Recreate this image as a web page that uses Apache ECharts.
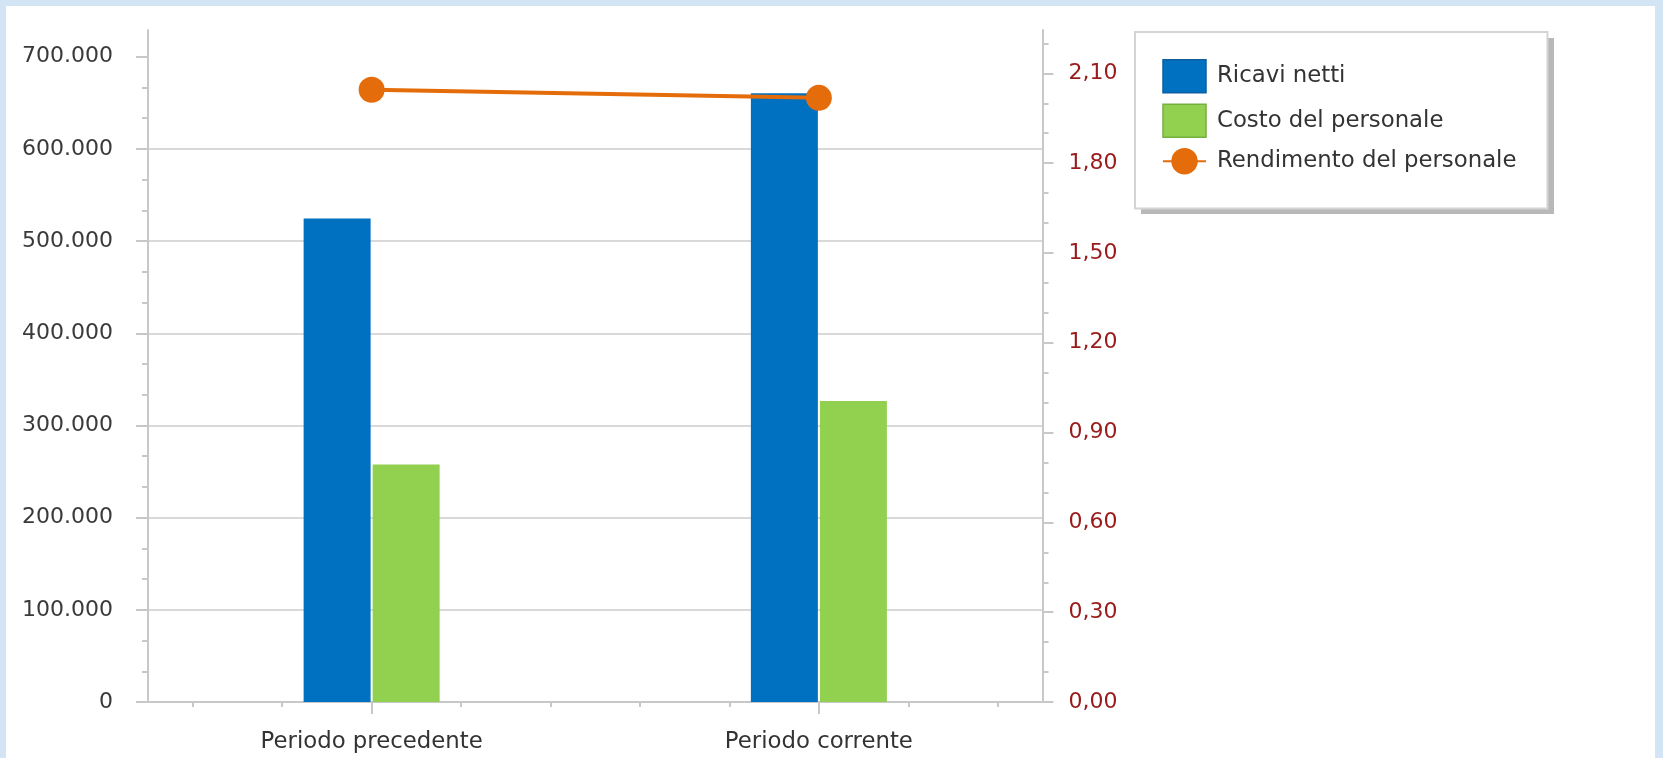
<!DOCTYPE html>
<html>
<head>
<meta charset="utf-8">
<script src="https://cdn.jsdelivr.net/npm/echarts@6/dist/echarts.min.js"></script>
<style>
  html, body { margin: 0; padding: 0; width: 1663px; height: 758px; overflow: hidden; background: #d3e4f5; }
  #panel { position: absolute; left: 6px; top: 6px; width: 1649px; height: 752px; background: #ffffff; }
  #chart { position: absolute; left: 0; top: 0; width: 1663px; height: 758px; }
</style>
</head>
<body>
<div id="panel"></div>
<div id="chart"></div>
<script>
// ---- data ----
const categories = ['Periodo precedente', 'Periodo corrente'];
const ricaviNetti = [524500, 660500];
const costoPersonale = [257600, 326500];
const rendimentoPersonale = [2.045, 2.018];
const seriesNames = ['Ricavi netti', 'Costo del personale', 'Rendimento del personale'];
const leftTicks = [0, 100000, 200000, 300000, 400000, 500000, 600000, 700000];
const rightTicks = [0, 0.3, 0.6, 0.9, 1.2, 1.5, 1.8, 2.1];
const leftMax = 729000;
const rightMax = 2.2447;

// minor ticks: two between each pair of major ticks
function minorValues(ticks, max) {
  const step = ticks[1] - ticks[0];
  const out = [];
  for (let i = 0; i < ticks.length; i++) {
    for (let j = 1; j <= 2; j++) {
      const v = ticks[i] + step * j / 3;
      if (v <= max) out.push(v);
    }
  }
  return out;
}
const leftMinor = minorValues(leftTicks, leftMax);
const rightMinor = minorValues(rightTicks, rightMax);
const xMinorSlots = new Array(categories.length * 5).fill('');

const FONT = 'DejaVu Sans';
const gridCol = '#d9d9d9';
const axisCol = '#c8c8c8';

function fmtThousands(v) {
  return String(Math.round(v)).replace(/\B(?=(\d{3})+(?!\d))/g, '.');
}
function fmtComma(v) {
  return v.toFixed(2).replace('.', ',');
}

const legendLeft = 1135, legendTop = 32, legendW = 413, legendH = 176;

const chart = echarts.init(document.getElementById('chart'), null, { renderer: 'canvas' });
chart.setOption({
  backgroundColor: 'transparent',
  animation: false,
  textStyle: { fontFamily: FONT },
  grid: { left: 148, right: 620.5, top: 30, bottom: 56, containLabel: false },
  graphic: [
    {
      type: 'rect',
      z: 0,
      shape: { x: legendLeft + 6, y: legendTop + 6, width: legendW, height: legendH },
      style: { fill: '#b8b8b8' },
      silent: true
    }
  ],
  legend: {
    orient: 'vertical',
    left: legendLeft,
    top: legendTop,
    padding: [27, 31, 34, 27],
    itemWidth: 43,
    itemHeight: 33,
    itemGap: 10,
    backgroundColor: '#ffffff',
    borderColor: '#d4d4d4',
    borderWidth: 2,
    borderRadius: 0,
    z: 10,
    textStyle: { fontFamily: FONT, fontSize: 22.8, color: '#333333', padding: [0, 0, 0, 6] },
    data: [
      { name: seriesNames[0], icon: 'rect', itemStyle: { borderColor: '#0d5fa0', borderWidth: 1.5 } },
      { name: seriesNames[1], icon: 'rect', itemStyle: { borderColor: '#74b040', borderWidth: 1.5 } },
      { name: seriesNames[2] }
    ]
  },
  xAxis: [
    {
      type: 'category',
      data: categories,
      position: 'bottom',
      boundaryGap: true,
      axisLine: { show: true, lineStyle: { color: axisCol, width: 2 } },
      axisTick: { show: true, alignWithLabel: true, length: 12, lineStyle: { color: axisCol, width: 2 } },
      axisLabel: { margin: 29, fontFamily: FONT, fontSize: 22.8, color: '#333333' },
      splitLine: { show: false }
    },
    {
      type: 'category',
      data: xMinorSlots,
      position: 'bottom',
      boundaryGap: true,
      axisLine: { show: false },
      axisTick: { show: true, alignWithLabel: true, length: 5, lineStyle: { color: axisCol, width: 2 } },
      axisLabel: { show: false },
      splitLine: { show: false }
    }
  ],
  yAxis: [
    {
      type: 'value',
      position: 'left',
      min: 0,
      max: leftMax,
      interval: 100000,
      axisLine: { show: true, lineStyle: { color: axisCol, width: 2 } },
      axisTick: { show: true, customValues: leftTicks, length: 12, lineStyle: { color: axisCol, width: 2 } },
      axisLabel: { customValues: leftTicks, margin: 35, fontFamily: FONT, fontSize: 22, color: '#3a3a3a', formatter: fmtThousands },
      splitLine: { show: true, showMaxLine: false, lineStyle: { color: gridCol, width: 2 } }
    },
    {
      type: 'value',
      position: 'left',
      min: 0,
      max: leftMax,
      interval: 100000,
      axisLine: { show: false },
      axisTick: { show: true, customValues: leftMinor, length: 6, lineStyle: { color: axisCol, width: 2 } },
      axisLabel: { show: false },
      splitLine: { show: false }
    },
    {
      type: 'value',
      position: 'right',
      min: 0,
      max: rightMax,
      interval: 0.3,
      axisLine: { show: true, lineStyle: { color: axisCol, width: 2 } },
      axisTick: { show: true, customValues: rightTicks, length: 11, lineStyle: { color: axisCol, width: 2 } },
      axisLabel: { customValues: rightTicks, margin: 26, fontFamily: FONT, fontSize: 22, color: '#991b1b', formatter: fmtComma },
      splitLine: { show: false }
    },
    {
      type: 'value',
      position: 'right',
      min: 0,
      max: rightMax,
      interval: 0.3,
      axisLine: { show: false },
      axisTick: { show: true, customValues: rightMinor, length: 6, lineStyle: { color: axisCol, width: 2 } },
      axisLabel: { show: false },
      splitLine: { show: false }
    }
  ],
  series: [
    {
      name: seriesNames[0],
      type: 'bar',
      xAxisIndex: 0,
      yAxisIndex: 0,
      data: ricaviNetti,
      barWidth: 67,
      barGap: '3%',
      itemStyle: { color: '#0070c0' }
    },
    {
      name: seriesNames[1],
      type: 'bar',
      xAxisIndex: 0,
      yAxisIndex: 0,
      data: costoPersonale,
      barWidth: 67,
      barGap: '3%',
      itemStyle: { color: '#92d050' }
    },
    {
      name: seriesNames[2],
      type: 'line',
      xAxisIndex: 0,
      yAxisIndex: 2,
      data: rendimentoPersonale,
      symbol: 'circle',
      symbolSize: 26,
      lineStyle: { color: '#e46c0a', width: 4 },
      itemStyle: { color: '#e46c0a' },
      z: 5
    }
  ]
});
</script>
</body>
</html>
